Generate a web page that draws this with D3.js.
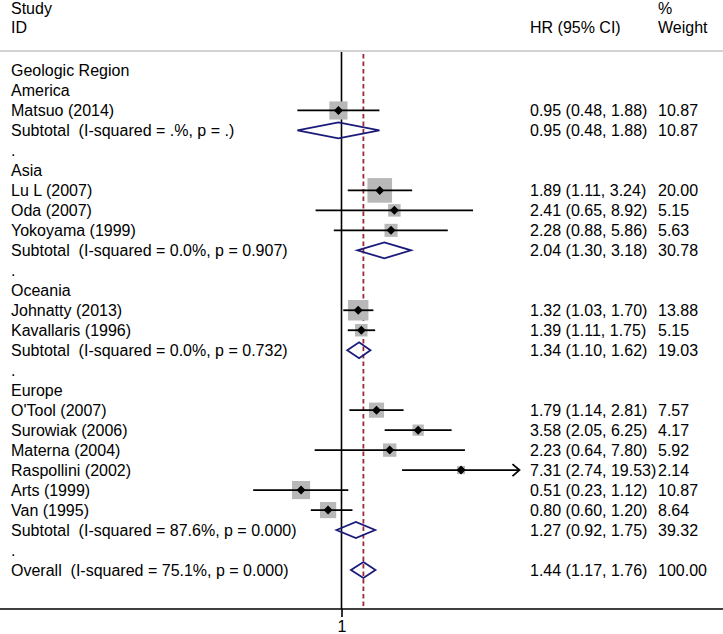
<!DOCTYPE html>
<html>
<head>
<meta charset="utf-8">
<script src="https://cdn.jsdelivr.net/npm/d3@7"></script>
<style>
  html, body { margin: 0; padding: 0; background: #fff; }
  svg { display: block; }
  text { font-family: "Liberation Sans", Arial, Helvetica, sans-serif; font-size: 16px; fill: #000; white-space: pre; }
</style>
</head>
<body>
<svg id="chart" width="723" height="634"></svg>
<script>
// ---- data ----
const rowLabels = [
  "Geologic Region", "America", "Matsuo (2014)", "Subtotal  (I-squared = .%, p = .)", ".",
  "Asia", "Lu L (2007)", "Oda (2007)", "Yokoyama (1999)", "Subtotal  (I-squared = 0.0%, p = 0.907)", ".",
  "Oceania", "Johnatty (2013)", "Kavallaris (1996)", "Subtotal  (I-squared = 0.0%, p = 0.732)", ".",
  "Europe", "O'Tool (2007)", "Surowiak (2006)", "Materna (2004)", "Raspollini (2002)", "Arts (1999)", "Van (1995)",
  "Subtotal  (I-squared = 87.6%, p = 0.000)", ".", "Overall  (I-squared = 75.1%, p = 0.000)"
];
const rowTypes = [
  "label", "label", "study", "subtotal", "label",
  "label", "study", "study", "study", "subtotal", "label",
  "label", "study", "study", "subtotal", "label",
  "label", "study", "study", "study", "study", "study", "study",
  "subtotal", "label", "overall"
];
const hrValues = [null, null, 0.95, 0.95, null, null, 1.89, 2.41, 2.28, 2.04, null, null, 1.32, 1.39, 1.34, null, null, 1.79, 3.58, 2.23, 7.31, 0.51, 0.80, 1.27, null, 1.44];
const ciLower  = [null, null, 0.48, 0.48, null, null, 1.11, 0.65, 0.88, 1.30, null, null, 1.03, 1.11, 1.10, null, null, 1.14, 2.05, 0.64, 2.74, 0.23, 0.60, 0.92, null, 1.17];
const ciUpper  = [null, null, 1.88, 1.88, null, null, 3.24, 8.92, 5.86, 3.18, null, null, 1.70, 1.75, 1.62, null, null, 2.81, 6.25, 7.80, 19.53, 1.12, 1.20, 1.75, null, 1.76];
const weights  = [null, null, 10.87, 10.87, null, null, 20.00, 5.15, 5.63, 30.78, null, null, 13.88, 5.15, 19.03, null, null, 7.57, 4.17, 5.92, 2.14, 10.87, 8.64, 39.32, null, 100.00];
const overallHR = 1.44;
const xTicks = [1];
const axisMax = 19;   // CI beyond this is drawn as an arrow
const headerLeft = ["Study", "ID"];
const headerHR = "HR (95% CI)";
const headerWeight = ["%", "Weight"];

// ---- layout ----
const W = 723, H = 634;
const svg = d3.select("#chart");
const x = d3.scaleLog().domain([0.1, 10]).range([341.5 - 60.1 * Math.log(10), 341.5 + 60.1 * Math.log(10)]);
const y = d3.scaleLinear().domain([0, rowLabels.length - 1]).range([70.5, 570]);
const topLine = 51, axisY = 609;
const labelX = 11, hrX = 530, wX = 658;
const fmt = d3.format(".2f");
const boxK = 5.5;

// header
svg.append("text").attr("x", labelX).attr("y", 14).text(headerLeft[0]);
svg.append("text").attr("x", labelX).attr("y", 33).text(headerLeft[1]);
svg.append("text").attr("x", hrX).attr("y", 33).text(headerHR);
svg.append("text").attr("x", wX).attr("y", 14).text(headerWeight[0]);
svg.append("text").attr("x", wX).attr("y", 33).text(headerWeight[1]);

svg.append("line").attr("x1", 0).attr("x2", W).attr("y1", topLine).attr("y2", topLine)
  .attr("stroke", "#c4c4c4").attr("stroke-width", 1.5);

// null line
svg.append("line").attr("x1", x(1)).attr("x2", x(1)).attr("y1", topLine + 1).attr("y2", axisY)
  .attr("stroke", "#000").attr("stroke-width", 1.6);

// overall dashed line
svg.append("line").attr("x1", x(overallHR)).attr("x2", x(overallHR)).attr("y1", topLine + 3).attr("y2", axisY - 2)
  .attr("stroke", "#9a2a36").attr("stroke-width", 1.8).attr("stroke-dasharray", "4.5,3");

// bottom axis
svg.append("line").attr("x1", 0).attr("x2", W).attr("y1", axisY).attr("y2", axisY)
  .attr("stroke", "#000").attr("stroke-width", 1.3);
const axis = d3.axisBottom(x).tickValues(xTicks).tickFormat(d3.format("d")).tickSize(8).tickPadding(4);
const ag = svg.append("g").attr("transform", `translate(0,${axisY})`).call(axis);
ag.select(".domain").remove();
ag.selectAll(".tick line").attr("stroke", "#000").attr("stroke-width", 1.6);
ag.selectAll(".tick text").style("font-size", "16px").style("font-family", '"Liberation Sans", Arial, sans-serif').attr("fill", "#000");

// rows
const rows = rowLabels.map((l, i) => ({ i, label: l, type: rowTypes[i], hr: hrValues[i], lo: ciLower[i], hi: ciUpper[i], w: weights[i] }));

svg.append("g").selectAll("text").data(rows).join("text")
  .attr("x", labelX).attr("y", d => y(d.i) + 5.5).text(d => d.label);

const valRows = rows.filter(d => d.hr != null);
svg.append("g").selectAll("text").data(valRows).join("text")
  .attr("x", hrX).attr("y", d => y(d.i) + 5.5)
  .text(d => `${fmt(d.hr)} (${fmt(d.lo)}, ${fmt(d.hi)})`);
svg.append("g").selectAll("text").data(valRows).join("text")
  .attr("x", wX).attr("y", d => y(d.i) + 5.5).text(d => fmt(d.w));

const studies = rows.filter(d => d.type === "study");
// boxes
svg.append("g").selectAll("rect").data(studies).join("rect")
  .attr("x", d => x(d.hr) - boxK * Math.sqrt(d.w) / 2)
  .attr("y", d => y(d.i) - boxK * Math.sqrt(d.w) / 2)
  .attr("width", d => boxK * Math.sqrt(d.w))
  .attr("height", d => boxK * Math.sqrt(d.w))
  .attr("fill", "#b8b8b8");
// CI lines
svg.append("g").selectAll("line").data(studies).join("line")
  .attr("x1", d => x(d.lo)).attr("x2", d => x(Math.min(d.hi, axisMax)))
  .attr("y1", d => y(d.i)).attr("y2", d => y(d.i))
  .attr("stroke", "#000").attr("stroke-width", 1.8);
// arrows
const arrows = studies.filter(d => d.hi > axisMax);
svg.append("g").selectAll("path").data(arrows).join("path")
  .attr("d", d => { const ax = x(axisMax) + 1, ay = y(d.i); return `M${ax - 7},${ay - 6}L${ax},${ay}L${ax - 7},${ay + 6}`; })
  .attr("fill", "none").attr("stroke", "#000").attr("stroke-width", 1.8);
// point markers
svg.append("g").selectAll("path").data(studies).join("path")
  .attr("d", d => { const cx = x(d.hr), cy = y(d.i), r = 4.5; return `M${cx - r},${cy}L${cx},${cy - r}L${cx + r},${cy}L${cx},${cy + r}Z`; })
  .attr("fill", "#000");

// summary diamonds
const summ = rows.filter(d => d.type === "subtotal" || d.type === "overall");
svg.append("g").selectAll("path").data(summ).join("path")
  .attr("d", d => { const cy = y(d.i), h = 8; return `M${x(d.lo)},${cy}L${x(d.hr)},${cy - h}L${x(d.hi)},${cy}L${x(d.hr)},${cy + h}Z`; })
  .attr("fill", "none").attr("stroke", "#1a1a7a").attr("stroke-width", 1.8);
</script>
</body>
</html>
